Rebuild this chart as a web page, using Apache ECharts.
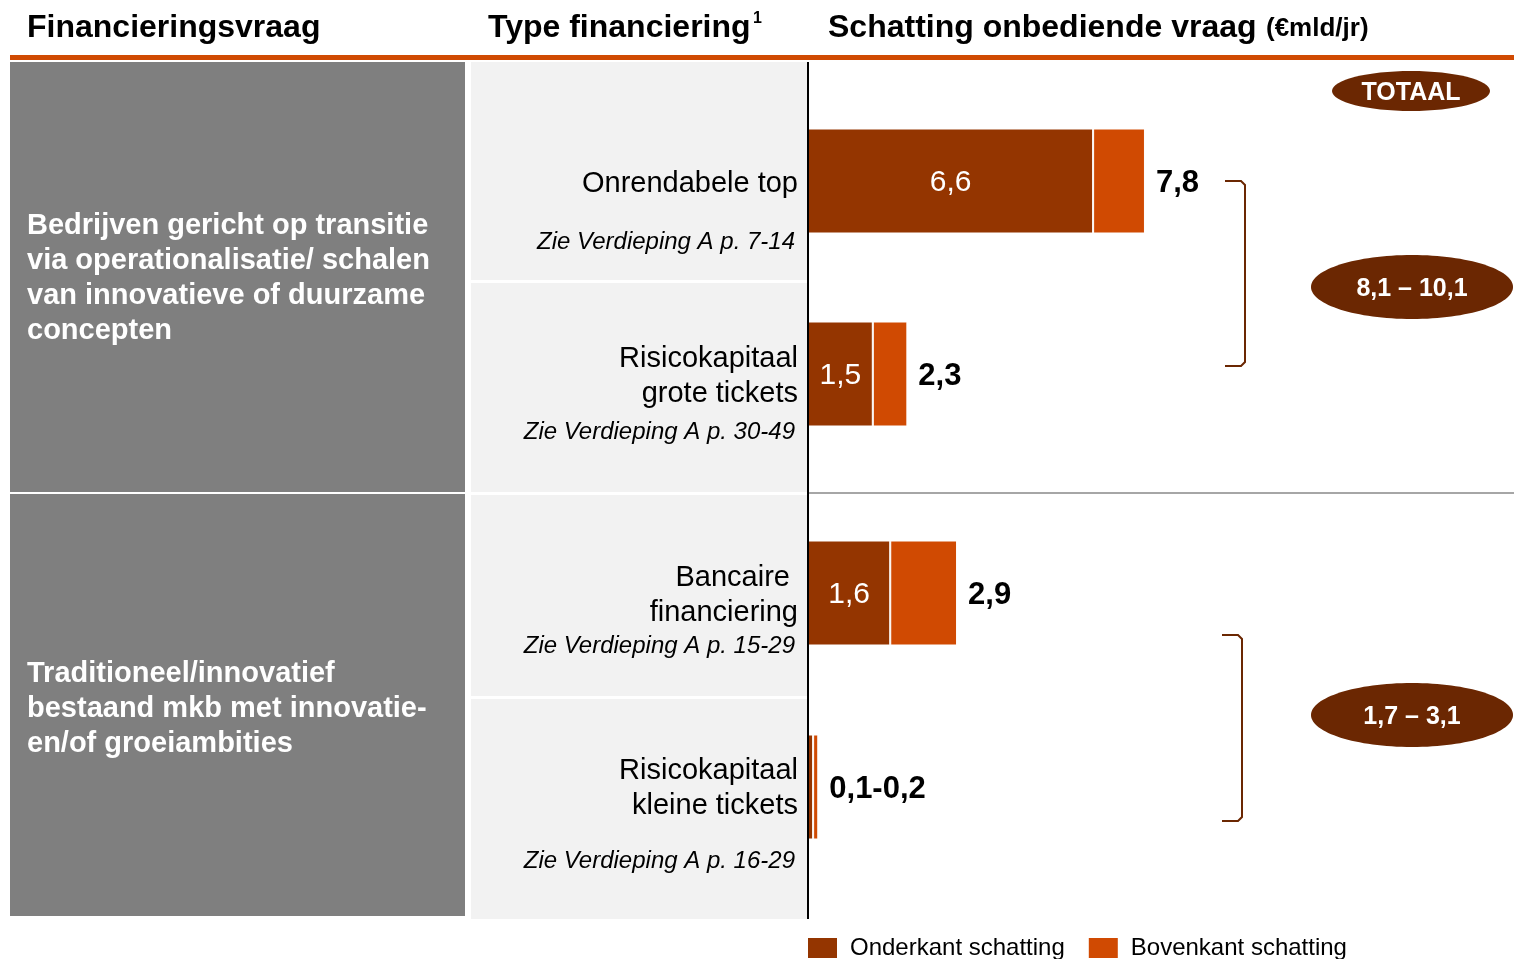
<!DOCTYPE html>
<html>
<head>
<meta charset="utf-8">
<script src="https://cdn.jsdelivr.net/npm/echarts@6/dist/echarts.min.js"></script>
<style>
  html, body { margin: 0; padding: 0; background: #fff; }
  #main { width: 1514px; height: 959px; }
</style>
</head>
<body>
<div id="main"></div>
<script>
var FONT = '"Liberation Sans", Arial, sans-serif';

// type financiering per rij
var categories = ['Onrendabele top', 'Risicokapitaal grote tickets', 'Bancaire financiering', 'Risicokapitaal kleine tickets'];
var categoryLines = [['Onrendabele top'], ['Risicokapitaal', 'grote tickets'], ['Bancaire ', 'financiering'], ['Risicokapitaal', 'kleine tickets']];
var verdieping = ['Zie Verdieping A p. 7-14', 'Zie Verdieping A p. 30-49', 'Zie Verdieping A p. 15-29', 'Zie Verdieping A p. 16-29'];

// schattingen (€mld/jr)
var onderkant = [6.6, 1.5, 1.6, 0.1];
var bovenkant = [7.8, 2.3, 2.9, 0.2];
var innerLabels = ['6,6', '1,5', '1,6', ''];
var totalLabels = ['7,8', '2,3', '2,9', '0,1-0,2'];

// financieringsvraag (secties) en totalen
var sections = [
	'Bedrijven gericht op transitie\nvia operationalisatie/ schalen\nvan innovatieve of duurzame\nconcepten',
	'Traditioneel/innovatief\nbestaand mkb met innovatie-\nen/of groeiambities'
];
var sectionRows = [[0, 1], [2, 3]];
var totaalRanges = ['8,1 – 10,1', '1,7 – 3,1'];

var DARK = '#943500', ORANGE = '#d04a02', BROWN = '#6b2702';

var myChart = echarts.init(document.getElementById('main'));

// grids per sectie
var grids = [
	{ left: 808, top: 84.5, width: 432, height: 386 },
	{ left: 808, top: 496, width: 514, height: 388 }
];
var xAxes = [], yAxes = [], series = [];

sectionRows.forEach(function(rows, s) {
	xAxes.push({ type: 'value', gridIndex: s, min: 0, max: 10, show: false });
	yAxes.push({
		type: 'category', gridIndex: s, inverse: true,
		data: rows.map(function(i) { return categories[i]; }),
		axisLine: { show: false }, axisTick: { show: false }, axisLabel: { show: false }
	});
	series.push({
		name: 'Onderkant schatting', type: 'bar', stack: 'sec' + s,
		xAxisIndex: s, yAxisIndex: s, barWidth: 105,
		data: rows.map(function(i) { return onderkant[i]; }),
		itemStyle: { color: DARK, borderColor: '#fff', borderWidth: 1 },
		label: {
			show: true, position: 'inside', color: '#fff', fontSize: 30, fontFamily: FONT,
			offset: [0, 2],
			formatter: function(p) { return innerLabels[rows[p.dataIndex]]; }
		}
	});
	series.push({
		name: 'Bovenkant schatting', type: 'bar', stack: 'sec' + s,
		xAxisIndex: s, yAxisIndex: s, barWidth: 105,
		data: rows.map(function(i) { return +(bovenkant[i] - onderkant[i]).toFixed(1); }),
		itemStyle: { color: ORANGE, borderColor: '#fff', borderWidth: 1 },
		label: {
			show: true, position: 'right', distance: 11, color: '#000',
			fontSize: 31, fontWeight: 'bold', fontFamily: FONT, offset: [0, 2],
			formatter: function(p) { return totalLabels[rows[p.dataIndex]]; }
		}
	});
});

// achtergrondvlakken, koppen en annotaties
var g = [];
function rect(x, y, w, h, color) {
	g.push({ type: 'rect', shape: { x: x, y: y, width: w, height: h }, style: { fill: color }, z: -10, silent: true });
}
function txt(t, x, y, size, opts) {
	opts = opts || {};
	g.push({
		type: 'text', x: x, y: y, z: 10, silent: true,
		style: {
			text: t, fill: opts.fill || '#000', fontSize: size, fontFamily: FONT,
			fontWeight: opts.bold ? 'bold' : 'normal', fontStyle: opts.italic ? 'italic' : 'normal',
			textAlign: opts.align || 'left', textVerticalAlign: opts.valign || 'middle',
			lineHeight: opts.lineHeight
		}
	});
}

rect(10, 62, 455, 430, '#7f7f7f');
rect(10, 494, 455, 422, '#7f7f7f');
rect(471, 62, 336, 218, '#f2f2f2');
rect(471, 283, 336, 209, '#f2f2f2');
rect(471, 495, 336, 201, '#f2f2f2');
rect(471, 699, 336, 220, '#f2f2f2');
rect(10, 55, 1504, 5, ORANGE);
g.push({ type: 'line', shape: { x1: 808, y1: 493, x2: 1514, y2: 493 }, style: { stroke: '#a6a6a6', lineWidth: 2 }, z: -5 });
g.push({ type: 'line', shape: { x1: 808, y1: 62, x2: 808, y2: 919 }, style: { stroke: '#000', lineWidth: 2 }, z: 5 });

txt('Financieringsvraag', 27, 28, 32, { bold: true });
txt('Type financiering', 488, 28, 32, { bold: true });
txt('1', 753, 19, 16, { bold: true });
txt('Schatting onbediende vraag', 828, 28, 32, { bold: true });
txt('(€mld/jr)', 1266, 29, 26, { bold: true });

txt(sections[0], 27, 208, 29, { bold: true, fill: '#fff', valign: 'top', lineHeight: 35 });
txt(sections[1], 27, 656, 29, { bold: true, fill: '#fff', valign: 'top', lineHeight: 35 });

var labelY = [[184], [359, 394], [578, 613], [771, 806]];
var verdY = [242, 432, 646, 861];
categoryLines.forEach(function(lines, i) {
	lines.forEach(function(l, k) { txt(l, 798, labelY[i][k], 29, { align: 'right' }); });
	txt(verdieping[i], 795, verdY[i], 24, { italic: true, align: 'right' });
});

// haken
g.push({ type: 'polyline', shape: { points: [[1225, 181], [1241, 181], [1245, 185], [1245, 362], [1241, 366], [1225, 366]] }, style: { stroke: BROWN, lineWidth: 2, fill: null } });
g.push({ type: 'polyline', shape: { points: [[1222, 635], [1238, 635], [1242, 639], [1242, 817], [1238, 821], [1222, 821]] }, style: { stroke: BROWN, lineWidth: 2, fill: null } });

// totaal-ellipsen
g.push({ type: 'ellipse', shape: { cx: 1411, cy: 91, rx: 79, ry: 20 }, style: { fill: BROWN } });
txt('TOTAAL', 1411, 93, 25, { bold: true, fill: '#fff', align: 'center' });
[287, 715].forEach(function(cy, s) {
	g.push({ type: 'ellipse', shape: { cx: 1412, cy: cy, rx: 101, ry: 32 }, style: { fill: BROWN } });
	txt(totaalRanges[s], 1412, cy + 2, 25, { bold: true, fill: '#fff', align: 'center' });
});

var option = {
	animation: false,
	grid: grids,
	xAxis: xAxes,
	yAxis: yAxes,
	legend: {
		data: ['Onderkant schatting', 'Bovenkant schatting'],
		left: 806, top: 936, padding: 0,
		itemWidth: 31, itemHeight: 22, itemGap: 22, icon: 'rect',
		textStyle: { fontSize: 24, fontFamily: FONT, color: '#000', padding: [0, 0, 0, 7] }
	},
	graphic: g,
	series: series
};

myChart.setOption(option);
</script>
</body>
</html>
